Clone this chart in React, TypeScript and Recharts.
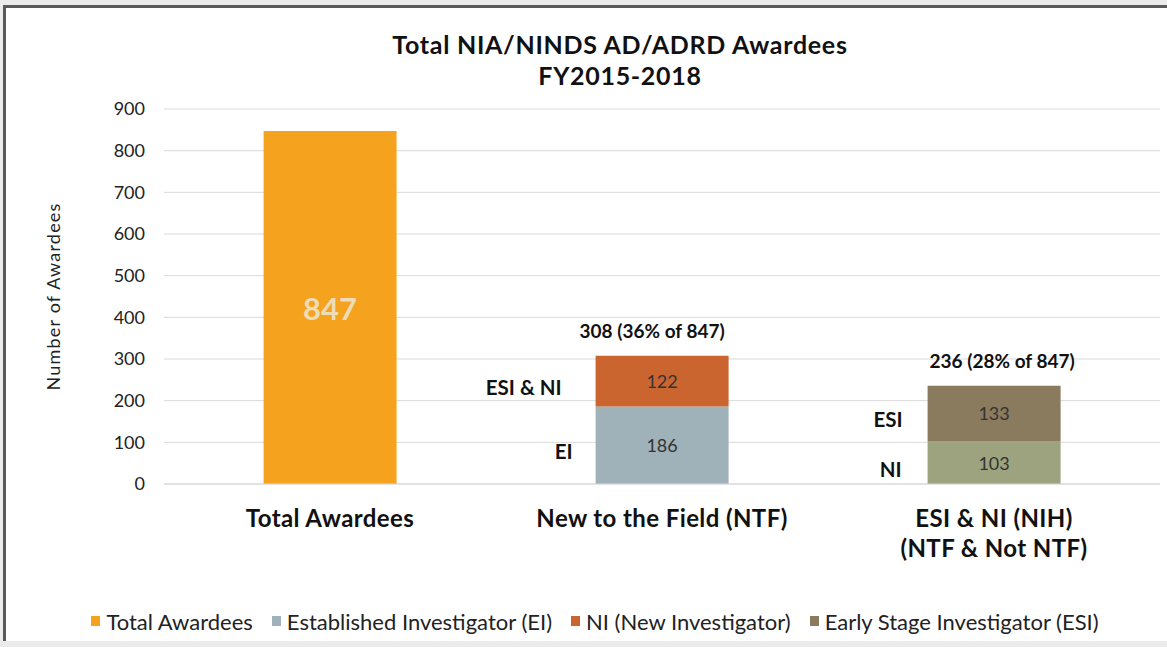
import React from 'react';
import { BarChart, Bar, XAxis, YAxis, CartesianGrid, Legend, LabelList } from 'recharts';

const categories = ['Total Awardees', 'New to the Field (NTF)', 'ESI & NI (NIH)|(NTF & Not NTF)'];
const totalValues = [847, null, null];
const eiValues = [null, 186, null];
const ntfNiValues = [null, 122, null];
const nihNiValues = [null, null, 103];
const esiValues = [null, null, 133];
const topLabels = ['', '308 (36% of 847)', '236 (28% of 847)'];
const yTicks = [0, 100, 200, 300, 400, 500, 600, 700, 800, 900];
const legendOrder = ['Total Awardees', 'Established Investigator (EI)', 'NI (New Investigator)', 'Early Stage Investigator (ESI)'];

const data = categories.map((name, i) => ({
  name,
  total: totalValues[i],
  ei: eiValues[i],
  ntfNi: ntfNiValues[i],
  nihNi: nihNiValues[i],
  esi: esiValues[i],
}));

const FONT = 'Lato, "Open Sans", sans-serif';

const rawValue = (value: any) => {
  if (Array.isArray(value)) return value[1] - value[0];
  return value;
};

const makeSegLabel = (values: (number | null)[], side: string, sideGap: number, showTop: boolean, topDx: number) => (props: any) => {
  const { x, y, width, height } = props;
  const v = rawValue(props.value);
  if (v == null || !height) return null;
  const idx = values.indexOf(v);
  const cx = Number(x) + Number(width) / 2;
  const cy = Number(y) + Number(height) / 2;
  return (
    <g>
      <text x={cx} y={cy} textAnchor="middle" dominantBaseline="central" fontSize={18} fill="#333" fontFamily={FONT}>{v}</text>
      <text x={Number(x) - sideGap} y={cy + 6} textAnchor="end" dominantBaseline="central" fontSize={20.5} fontWeight="bold" fill="#111" fontFamily={FONT}>{side}</text>
      {showTop && idx >= 0 && (
        <text x={cx + topDx} y={Number(y) - 25} textAnchor="middle" dominantBaseline="central" fontSize={19} fontWeight="bold" fill="#111" fontFamily={FONT}>{topLabels[idx]}</text>
      )}
    </g>
  );
};

const TotalLabel = (props: any) => {
  const { x, y, width, height } = props;
  const v = rawValue(props.value);
  if (v == null || !height) return null;
  return (
    <text x={Number(x) + Number(width) / 2} y={Number(y) + Number(height) / 2} textAnchor="middle" dominantBaseline="central" fontSize={31} fontWeight="bold" fill="#eedcb8" fontFamily={FONT}>{v}</text>
  );
};

const XTick = (props: any) => {
  const { x, y, payload } = props;
  const lines = String(payload.value).split('|');
  return (
    <g>
      {lines.map((l, i) => (
        <text key={i} x={x} y={y + 35 + i * 30} textAnchor="middle" fontSize={24} fontWeight="bold" fill="#111" fontFamily={FONT} letterSpacing={0.4}>{l}</text>
      ))}
    </g>
  );
};

const LegendContent = (props: any) => {
  const items = (props.payload || [])
    .filter((p: any) => p.type !== 'none' && legendOrder.indexOf(p.value) >= 0)
    .sort((a: any, b: any) => legendOrder.indexOf(a.value) - legendOrder.indexOf(b.value));
  return (
    <div style={{ display: 'flex', justifyContent: 'center', alignItems: 'center', height: 30, fontFamily: FONT, fontSize: 22, color: '#222' }}>
      {items.map((p: any, i: number) => (
        <div key={i} style={{ display: 'flex', alignItems: 'center', marginRight: i < items.length - 1 ? 19 : 0 }}>
          <span style={{ display: 'inline-block', width: 9, height: 10, background: p.color, marginRight: 6 }} />
          <span>{p.value}</span>
        </div>
      ))}
    </div>
  );
};

const YLabel = (props: any) => {
  const vb = props.viewBox || {};
  const x = vb.x + 23;
  const y = vb.y + vb.height / 2;
  return (
    <text x={x} y={y} transform={`rotate(-90 ${x} ${y})`} textAnchor="middle" dominantBaseline="central" fontSize={18} letterSpacing={1.2} fill="#222" fontFamily={FONT}>Number of Awardees</text>
  );
};

export default function App() {
  return (
    <div style={{ position: 'absolute', left: 0, top: 0, width: 1167, height: 647, background: '#ebebeb', overflow: 'hidden' }}>
      <div style={{ position: 'absolute', left: 3, top: 5, width: 1180, height: 633, background: '#fff', borderLeft: '3px solid #58595b', borderTop: '3px solid #58595b' }} />
      <div style={{ position: 'absolute', left: 0, top: 29, width: 1240, textAlign: 'center', fontFamily: FONT, fontWeight: 'bold', fontSize: 25, lineHeight: '31px', color: '#111', letterSpacing: 0.7 }}>
        <div>Total NIA/NINDS AD/ADRD Awardees</div>
        <div>FY2015-2018</div>
      </div>
      <div style={{ position: 'absolute', left: 0, top: 0 }}>
        <BarChart width={1167} height={647} data={data} margin={{ top: 109, right: 7, left: 30, bottom: 11 }} barCategoryGap="30%">
          <CartesianGrid vertical={false} stroke="#d9d9d9" />
          <XAxis dataKey="name" height={122} tickLine={false} axisLine={{ stroke: '#d9d9d9' }} tick={<XTick />} interval={0} />
          <YAxis width={134} domain={[0, 900]} ticks={yTicks} tickLine={false} axisLine={false} tickMargin={13} tick={{ fontSize: 18, fill: '#222', fontFamily: FONT }} label={<YLabel />} />
          <Legend verticalAlign="bottom" content={<LegendContent />} />
          <Bar dataKey="total" name="Total Awardees" stackId="s" fill="#f5a31f" isAnimationActive={false}>
            <LabelList dataKey="total" content={TotalLabel} />
          </Bar>
          <Bar dataKey="ei" name="Established Investigator (EI)" stackId="s" fill="#a0b2b9" isAnimationActive={false}>
            <LabelList dataKey="ei" content={makeSegLabel(eiValues, 'EI', 23, false, 0)} />
          </Bar>
          <Bar dataKey="ntfNi" name="NI (New Investigator)" stackId="s" fill="#ca6530" isAnimationActive={false}>
            <LabelList dataKey="ntfNi" content={makeSegLabel(ntfNiValues, 'ESI & NI', 34, true, -10)} />
          </Bar>
          <Bar dataKey="nihNi" name="NI" stackId="s" fill="#9ca37e" legendType="none" isAnimationActive={false}>
            <LabelList dataKey="nihNi" content={makeSegLabel(nihNiValues, 'NI', 26, false, 0)} />
          </Bar>
          <Bar dataKey="esi" name="Early Stage Investigator (ESI)" stackId="s" fill="#8b7b5e" isAnimationActive={false}>
            <LabelList dataKey="esi" content={makeSegLabel(esiValues, 'ESI', 25, true, 8)} />
          </Bar>
        </BarChart>
      </div>
    </div>
  );
}
